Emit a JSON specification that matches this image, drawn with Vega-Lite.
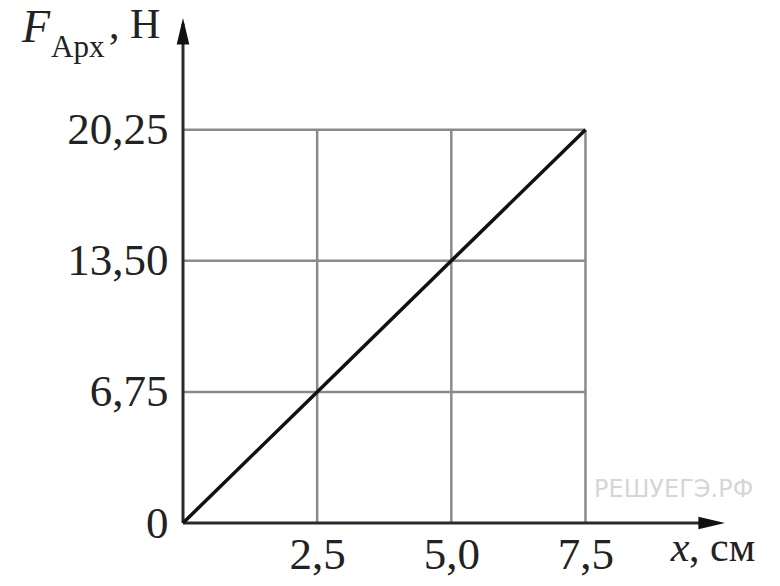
{
  "$schema": "https://vega.github.io/schema/vega-lite/v6.json",
  "width": 542,
  "height": 505,
  "autosize": {"type": "none"},
  "padding": {"left": 183, "top": 18, "right": 55, "bottom": 63},
  "background": "white",
  "config": {
    "view": {"stroke": null},
    "axis": {"grid": false, "domain": false, "ticks": false, "labelFont": "Liberation Serif", "labelFontSize": 45, "labelColor": "#222222", "title": null}
  },
  "data": {"values": [{}]},
  "datasets": {
    "line": [{"x": 0, "F": 0}, {"x": 2.5, "F": 6.75}, {"x": 5.0, "F": 13.5}, {"x": 7.5, "F": 20.25}],
    "grid": [
      {"x": 2.5, "x2": 2.5, "y": 0, "y2": 20.25},
      {"x": 5.0, "x2": 5.0, "y": 0, "y2": 20.25},
      {"x": 7.5, "x2": 7.5, "y": 0, "y2": 20.25},
      {"x": 0, "x2": 7.5, "y": 6.75, "y2": 6.75},
      {"x": 0, "x2": 7.5, "y": 13.5, "y2": 13.5},
      {"x": 0, "x2": 7.5, "y": 20.25, "y2": 20.25}
    ]
  },
  "layer": [
    {
      "data": {"name": "grid"},
      "mark": {"type": "rule", "color": "#8a8a8a", "strokeWidth": 2.5},
      "encoding": {
        "x": {"field": "x", "type": "quantitative", "scale": {"domain": [0, 10.1], "nice": false, "zero": false},
              "axis": {"values": [2.5, 5.0, 7.5], "labelExpr": "replace(format(datum.value, '.1f'), '.', ',')", "labelPadding": 9}},
        "x2": {"field": "x2"},
        "y": {"field": "y", "type": "quantitative", "scale": {"domain": [0, 26], "nice": false, "zero": false},
              "axis": {"values": [0, 6.75, 13.5, 20.25], "labelExpr": "datum.value == 0 ? '0' : replace(format(datum.value, '.2f'), '.', ',')", "labelPadding": 15}},
        "y2": {"field": "y2"}
      }
    },
    {
      "mark": {"type": "rule", "color": "#2a2a2a", "strokeWidth": 3},
      "encoding": {"x": {"datum": 0}, "x2": {"datum": 9.9}, "y": {"datum": 0}}
    },
    {
      "mark": {"type": "rule", "color": "#2a2a2a", "strokeWidth": 3},
      "encoding": {"x": {"datum": 0}, "y": {"datum": 0}, "y2": {"datum": 25.7}}
    },
    {
      "mark": {"type": "point", "filled": true, "opacity": 1, "color": "#111111", "size": 784, "shape": "M0,0L-1.9,-0.45L-1.9,0.45Z", "strokeWidth": 0},
      "encoding": {"x": {"datum": 10.1}, "y": {"datum": 0}}
    },
    {
      "mark": {"type": "point", "filled": true, "opacity": 1, "color": "#111111", "size": 784, "shape": "M0,0L0.45,1.9L-0.45,1.9Z", "strokeWidth": 0},
      "encoding": {"x": {"datum": 0}, "y": {"datum": 26}}
    },
    {
      "data": {"name": "line"},
      "mark": {"type": "line", "color": "#111111", "strokeWidth": 3.5},
      "encoding": {"x": {"field": "x", "type": "quantitative"}, "y": {"field": "F", "type": "quantitative"}}
    },
    {
      "mark": {"type": "text", "text": "F", "font": "Liberation Serif", "fontStyle": "italic", "fontSize": 46, "align": "left", "baseline": "alphabetic", "color": "#222222"},
      "encoding": {"x": {"datum": -3.0}, "y": {"datum": 24.77}}
    },
    {
      "mark": {"type": "text", "text": "Арх", "font": "Liberation Serif", "fontSize": 31, "align": "left", "baseline": "alphabetic", "color": "#222222"},
      "encoding": {"x": {"datum": -2.46}, "y": {"datum": 24.0}}
    },
    {
      "mark": {"type": "text", "text": ", Н", "font": "Liberation Serif", "fontSize": 42, "align": "left", "baseline": "alphabetic", "color": "#222222"},
      "encoding": {"x": {"datum": -1.38}, "y": {"datum": 24.97}}
    },
    {
      "mark": {"type": "text", "text": "x", "font": "Liberation Serif", "fontStyle": "italic", "fontSize": 42, "align": "left", "baseline": "alphabetic", "color": "#222222"},
      "encoding": {"x": {"datum": 9.09}, "y": {"datum": -1.95}}
    },
    {
      "mark": {"type": "text", "text": ", см", "font": "Liberation Serif", "fontSize": 42, "align": "left", "baseline": "alphabetic", "color": "#222222"},
      "encoding": {"x": {"datum": 9.43}, "y": {"datum": -1.95}}
    },
    {
      "mark": {"type": "text", "text": "РЕШУЕГЭ.РФ", "font": "DejaVu Sans", "fontSize": 24, "align": "left", "baseline": "alphabetic", "color": "#d6d6d6"},
      "encoding": {"x": {"datum": 7.66}, "y": {"datum": 1.34}}
    }
  ]
}
